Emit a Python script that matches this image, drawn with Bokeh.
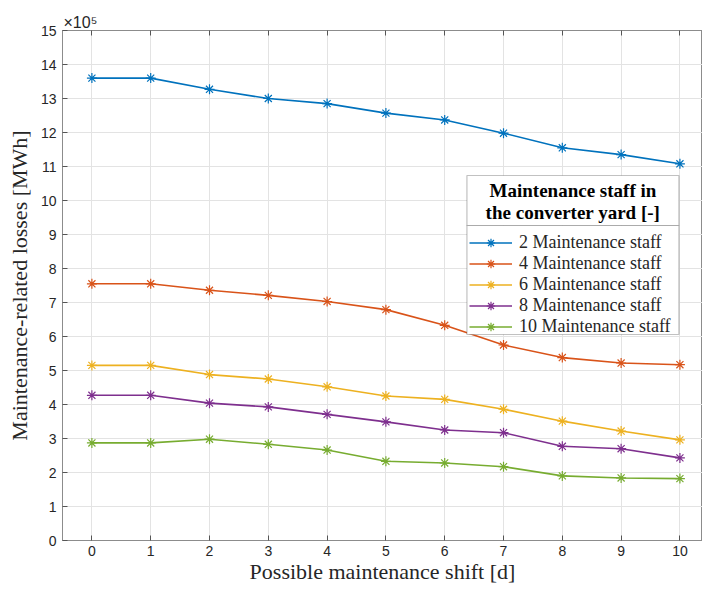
from bokeh.plotting import figure
from bokeh.models import (Range1d, LinearAxis, FixedTicker, Legend, LegendItem,
                          BoxAnnotation, Label, Title)
from bokeh.embed import file_html
from bokeh.resources import INLINE

# ---- data (values in units of 1e5 MWh) ----
shift_days = [0, 1, 2, 3, 4, 5, 6, 7, 8, 9, 10]
staff_2 = [13.60, 13.60, 13.27, 13.00, 12.85, 12.57, 12.37, 11.98, 11.55, 11.35, 11.08]
staff_4 = [7.55, 7.55, 7.36, 7.21, 7.03, 6.79, 6.33, 5.75, 5.38, 5.22, 5.17]
staff_6 = [5.15, 5.15, 4.88, 4.75, 4.52, 4.25, 4.15, 3.86, 3.51, 3.22, 2.96]
staff_8 = [4.27, 4.27, 4.04, 3.93, 3.71, 3.49, 3.25, 3.17, 2.77, 2.70, 2.43]
staff_10 = [2.87, 2.87, 2.98, 2.83, 2.66, 2.33, 2.28, 2.17, 1.90, 1.84, 1.82]

series = [staff_2, staff_4, staff_6, staff_8, staff_10]
series_labels = ["2 Maintenance staff", "4 Maintenance staff", "6 Maintenance staff",
                 "8 Maintenance staff", "10 Maintenance staff"]
colors = ["#0072BD", "#D95319", "#EDB120", "#7E2F8E", "#77AC30"]
x_ticks = list(range(0, 11))
y_ticks = list(range(0, 16))
legend_title_lines = ["Maintenance staff in", "the converter yard [-]"]
exponent_text = "\u00d710\u2075"

AX = "#8c8c8c"
TXT = "#262626"
SERIF = "Liberation Serif"
SANS = "Liberation Sans"

p = figure(width=702, height=589, output_backend="svg", toolbar_location=None,
           x_range=Range1d(-0.5, 10.384), y_range=Range1d(0, 15),
           min_border_left=62, min_border_right=0, min_border_top=30, min_border_bottom=49,
           x_axis_label="Possible maintenance shift [d]",
           y_axis_label="Maintenance-related losses [MWh]")
p.outline_line_color = AX
p.background_fill_color = "white"
p.border_fill_color = "white"

p.title = Title(text=exponent_text, align="left", text_font=SANS, text_font_size="16px",
                text_font_style="normal", text_color=TXT, offset=1, standoff=0)

for ax in (p.xaxis[0], p.yaxis[0]):
    ax.axis_line_color = AX
    ax.major_tick_line_color = "#555555"
    ax.major_tick_in = 5
    ax.major_tick_out = 0
    ax.minor_tick_line_color = None
    ax.major_label_text_font = SANS
    ax.major_label_text_font_size = "14px"
    ax.major_label_text_color = TXT
    ax.axis_label_text_font = SERIF
    ax.axis_label_text_font_size = "22px"
    ax.axis_label_text_font_style = "normal"
    ax.axis_label_text_color = TXT
    ax.major_label_standoff = 6

p.xaxis[0].ticker = FixedTicker(ticks=x_ticks)
p.yaxis[0].ticker = FixedTicker(ticks=y_ticks)
p.xaxis[0].major_label_standoff = 5
p.xaxis[0].axis_label_standoff = 0
p.yaxis[0].axis_label_standoff = 6

top_axis = LinearAxis(ticker=FixedTicker(ticks=x_ticks), axis_line_color=AX,
                      major_tick_line_color="#555555", major_tick_in=5, major_tick_out=0,
                      minor_tick_line_color=None,
                      major_label_overrides={t: "" for t in x_ticks},
                      major_label_text_font_size="1px", major_label_standoff=0)
p.add_layout(top_axis, "above")

p.xgrid.ticker = FixedTicker(ticks=x_ticks)
p.ygrid.ticker = FixedTicker(ticks=y_ticks)
p.grid.grid_line_color = "#e3e3e3"
p.grid.grid_line_width = 1

items = []
for vals, lab, col in zip(series, series_labels, colors):
    r1 = p.line(shift_days, vals, line_color=col, line_width=1.6)
    r2 = p.scatter(shift_days, vals, marker="asterisk", size=10, line_color=col, line_width=1.2)
    items.append(LegendItem(label=lab, renderers=[r1, r2]))

# legend box (title part and entries part)
lx0, lx1 = 6.378, 9.983
title_box = BoxAnnotation(left=lx0, right=lx1, bottom=9.265, top=10.735,
                          fill_color="white", fill_alpha=1.0, line_color="#333333", line_width=1.2)
entry_box = BoxAnnotation(left=lx0, right=lx1, bottom=6.059, top=9.265,
                          fill_color="white", fill_alpha=1.0, line_color="#333333", line_width=1.2)
p.add_layout(title_box)
p.add_layout(entry_box)

for yy, line in zip([10.29, 9.65], legend_title_lines):
    p.add_layout(Label(x=(lx0 + lx1) / 2, y=yy, text=line, text_align="center",
                       text_baseline="middle", text_font=SERIF, text_font_size="19px",
                       text_font_style="bold", text_color="black"))

legend = Legend(items=items, location=(407, 203), padding=4, margin=0, spacing=0,
                label_height=21, glyph_height=21, glyph_width=43, label_standoff=7,
                label_text_font=SERIF, label_text_font_size="18px", label_text_color=TXT,
                border_line_color=None, background_fill_alpha=0.0)
p.add_layout(legend, "center")

open("out.html", "w").write(file_html(p, INLINE))
